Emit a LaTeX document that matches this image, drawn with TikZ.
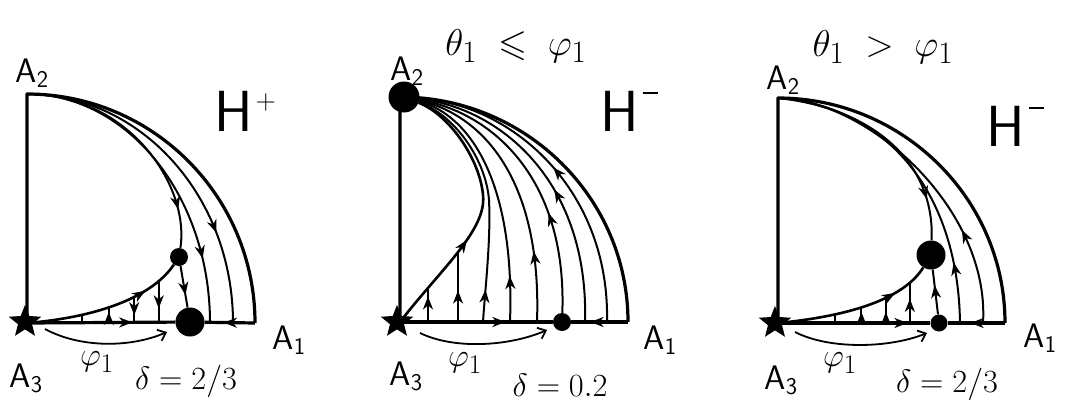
\documentclass[tikz,border=0pt]{standalone}
\usepackage{amssymb}
\usepackage{graphicx}
\usetikzlibrary{arrows.meta,decorations.markings,shapes.geometric}
\newcommand{\Asub}[2]{#1\kern0.5pt\raisebox{-0.35ex}{\fontsize{24}{24}\selectfont #2}}
\newcommand{\Hplus}{H\kern3pt\raisebox{22pt}{\fontsize{28}{28}\selectfont +}}
\newcommand{\Hminus}{H\kern4pt\raisebox{37pt}{\rule{15pt}{1.8pt}}}
\newcommand{\mtxt}[1]{\scalebox{1.3}{$#1$}}
\newcommand{\ttxt}[1]{\scalebox{1.5}{$#1$}}
\tikzset{
  bnd/.style={line width=3.2pt, line join=round},
  trj/.style={line width=2pt},
  sepx/.style={line width=2.6pt},
  fwd/.style={postaction={decorate,decoration={markings,mark=at position #1 with {\arrow{Stealth[length=13pt,width=10pt,inset=4pt]}}}}},
  bwd/.style={postaction={decorate,decoration={markings,mark=at position #1 with {\arrowreversed{Stealth[length=13pt,width=10pt,inset=4pt]}}}}},
  bigdot/.style={circle,fill,inner sep=0pt,minimum size=#1},
  starpt/.style={star,star points=5,star point ratio=2.3,fill,inner sep=0pt,minimum size=34pt},
  lbl/.style={font=\sffamily\fontsize{34}{36}\selectfont, inner sep=0pt, anchor=base west},
  hlbl/.style={font=\sffamily\fontsize{58}{60}\selectfont, inner sep=0pt, anchor=base west},
  mlbl/.style={font=\fontsize{24.88}{26}\selectfont, inner sep=0pt},
  phiarr/.style={line width=1.8pt,-{Straight Barb[length=7pt,width=12pt]}},
}
\begin{document}
\begin{tikzpicture}[x=1pt,y=-1pt]
\useasboundingbox (0,0) rectangle (1069,402);

% ================= Panel 1 =================
\coordinate (a3) at (27,323);
\coordinate (a2) at (27,94);
\coordinate (a1) at (255,323);
\node[bigdot=29pt] (n1) at (190,322) {};
\node[bigdot=18pt] (s1) at (179,257) {};
\draw[bnd] (a3) -- (a2) .. controls (153,94) and (255,196.5) .. (a1);
\draw[bnd,fwd=0.71] (a3) -- (n1);
\draw[bnd,fwd=0.62] (a1) -- (n1);
\draw[trj,fwd=0.84] (a2) .. controls (128,94) and (190,185) .. (s1);
\draw[trj,fwd=0.8] (a2) .. controls (128,94) and (210,196.5) .. (210,323);
\draw[trj,fwd=0.73] (a2) .. controls (141,94) and (233,196.5) .. (233,323);
\draw[sepx,fwd=0.76] (a3) .. controls (90,318) and (150,300) .. (s1)
  coordinate[pos=0.3] (t1) coordinate[pos=0.46] (t2)
  coordinate[pos=0.63] (t3) coordinate[pos=0.83] (t4);
\draw[trj] (t1) -- (t1 |- a3);
\draw[trj,fwd=11pt] (t2 |- a3) -- (t2);
\draw[trj,fwd=0.7] (t3) -- (t3 |- a3);
\draw[trj,fwd=0.65] (t4) -- (t4 |- a3);
\draw[trj,fwd=0.7] (s1) -- (n1);
\node[starpt] (st1) at (25,322) {};
\coordinate (p1s) at (45,329);
\coordinate (p1e) at (167,332);
\draw[phiarr] (p1s) .. controls (80,348) and (130,348) .. (p1e);
\node[lbl] (l1a2) at (15,82) {\Asub{A}{2}};
\node[hlbl] (l1h) at (214,131) {\Hplus};
\node[lbl] (l1a1) at (272,349) {\Asub{A}{1}};
\node[lbl] (l1a3) at (9,387) {\Asub{A}{3}};
\node[mlbl] (l1phi) at (97,362) {\mtxt{\varphi_1}};
\node[mlbl] (l1d) at (186,381) {\mtxt{\delta = 2/3}};

% ================= Panel 2 =================
\coordinate (b3) at (400,322);
\coordinate (b2) at (400,97);
\coordinate (b1) at (628,322);
\node[bigdot=18pt] (m2) at (562,322) {};
\draw[bnd] (b3) -- (b2) .. controls (526,97) and (628,198) .. (b1);
\draw[bnd,fwd=0.69] (b3) -- (m2);
\draw[bnd,fwd=0.66] (b1) -- (m2);
\node[bigdot=31pt] (n2a2) at (404,97) {};
\draw[trj,bwd=0.87] (n2a2) .. controls (455,115) and (486,160) .. (489,200)
  .. controls (491,240) and (485,290) .. (483,322);
\draw[trj,bwd=0.82] (n2a2) .. controls (472,116) and (515,185) .. (510,322);
\draw[trj,bwd=0.74] (n2a2) .. controls (483,115) and (542,180) .. (537,322);
\draw[trj,bwd=0.64] (n2a2) .. controls (494,113) and (567,180) .. (m2);
\draw[trj,bwd=0.55] (n2a2) .. controls (504,109) and (589,185) .. (585,322);
\draw[trj,bwd=0.48] (n2a2) .. controls (515,105) and (610,192) .. (607,322);
\draw[sepx,fwd=0.39] (b3) .. controls (440,270) and (487,230) .. (483,195)
  coordinate[pos=0.23] (u1) coordinate[pos=0.5] (u2)
  .. controls (480,160) and (450,115) .. (n2a2);
\draw[trj,fwd=0.75] (u1 |- b3) -- (u1);
\draw[trj,fwd=0.45] (u2 |- b3) -- (u2);
\node[starpt] (st2) at (397,322) {};
\coordinate (p2s) at (420,333);
\coordinate (p2e) at (547,330);
\draw[phiarr] (p2s) .. controls (455,350) and (510,346) .. (p2e);
\node[mlbl] (t2ttl) at (516,46) {\ttxt{\theta_1\;\leqslant\;\varphi_1}};
\node[lbl] (l2a2) at (390,80) {\Asub{A}{2}};
\node[hlbl] (l2h) at (600,131) {\Hminus};
\node[lbl] (l2a1) at (643,349) {\Asub{A}{1}};
\node[lbl] (l2a3) at (389,385) {\Asub{A}{3}};
\node[mlbl] (l2phi) at (465,363) {\mtxt{\varphi_1}};
\node[mlbl] (l2d) at (560,385) {\mtxt{\delta = 0.2}};

% ================= Panel 3 =================
\coordinate (c3) at (778,323);
\coordinate (c2) at (778,98);
\coordinate (c1) at (1005,323);
\node[bigdot=29pt] (m3big) at (931,255) {};
\node[bigdot=17pt] (m3small) at (939,323) {};
\draw[bnd] (c3) -- (c2) .. controls (903,98) and (1005,199) .. (c1);
\draw[bnd,fwd=0.85] (c3) -- (m3small);
\draw[bnd,fwd=0.6] (c1) -- (m3small);
\draw[trj,fwd=0.82] (c2) .. controls (870,108) and (935,160) .. (m3big);
\draw[trj,bwd=0.81] (c2) .. controls (880,105) and (958,185) .. (960,323);
\draw[trj,bwd=0.71] (c2) .. controls (870,100) and (990,210) .. (983,323);
\draw[sepx,fwd=0.76] (c3) .. controls (830,318) and (900,305) .. (m3big)
  coordinate[pos=0.34] (v1) coordinate[pos=0.5] (v2)
  coordinate[pos=0.66] (v3) coordinate[pos=0.85] (v4);
\draw[trj] (v1 |- c3) -- (v1);
\draw[trj,fwd=11pt] (v2 |- c3) -- (v2);
\draw[trj,fwd=11pt] (v3 |- c3) -- (v3);
\draw[trj,fwd=0.6] (v4 |- c3) -- (v4);
\draw[trj,fwd=0.65] (m3small) -- (m3big);
\node[starpt] (st3) at (775,323) {};
\coordinate (p3s) at (795,332);
\coordinate (p3e) at (927,333);
\draw[phiarr] (p3s) .. controls (830,350) and (890,348) .. (p3e);
\node[mlbl] (t3ttl) at (883,47) {\ttxt{\theta_1\;>\;\varphi_1}};
\node[lbl] (l3a2) at (766,89) {\Asub{A}{2}};
\node[hlbl] (l3h) at (986,146) {\Hminus};
\node[lbl] (l3a1) at (1023,347) {\Asub{A}{1}};
\node[lbl] (l3a3) at (764,389) {\Asub{A}{3}};
\node[mlbl] (l3phi) at (840,363) {\mtxt{\varphi_1}};
\node[mlbl] (l3d) at (947,384) {\mtxt{\delta = 2/3}};
\end{tikzpicture}
\end{document}
